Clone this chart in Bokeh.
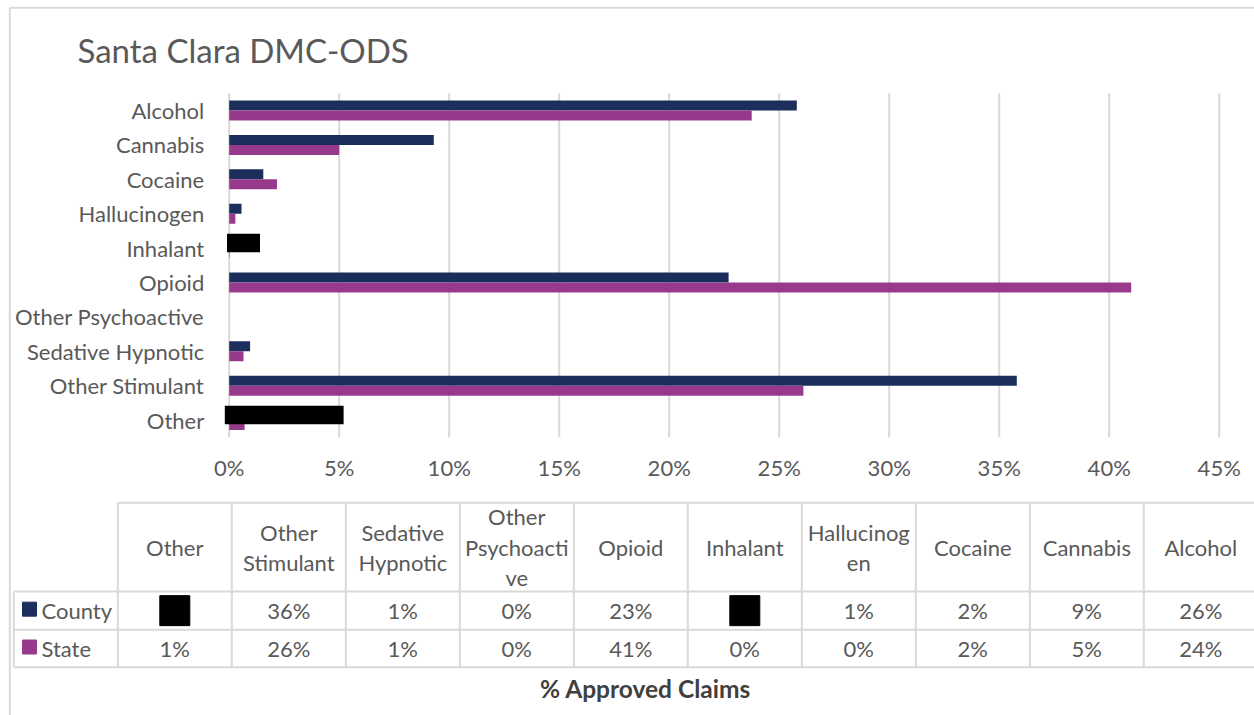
from bokeh.plotting import figure
from bokeh.models import ColumnDataSource, Range1d
from bokeh.transform import dodge
from bokeh.embed import file_html
from bokeh.resources import INLINE
from bokeh.core.properties import value

# ---------------- data ----------------
title_text = "Santa Clara DMC-ODS"
categories = ["Alcohol", "Cannabis", "Cocaine", "Hallucinogen", "Inhalant",
              "Opioid", "Other Psychoactive", "Sedative Hypnotic",
              "Other Stimulant", "Other"]
# None = value redacted (blacked out) in the source image
county_pct = [25.8, 9.3, 1.55, 0.56, None, 22.7, 0.0, 0.95, 35.8, None]
state_pct = [23.75, 5.0, 2.17, 0.28, 0.02, 41.0, 0.0, 0.65, 26.1, 0.7]
x_ticks = [0, 5, 10, 15, 20, 25, 30, 35, 40, 45]
series_names = ["County", "State"]
table_headers = ["Other", "Other\nStimulant", "Sedative\nHypnotic",
                 "Other\nPsychoacti\nve", "Opioid", "Inhalant",
                 "Hallucinog\nen", "Cocaine", "Cannabis", "Alcohol"]
redacted_cats = ["Inhalant", "Other"]
redacted_left = [-0.1, -0.2]
redacted_right = [1.4, 5.2]
axis_title = "% Approved Claims"

NAVY = "#1c2e5c"
PURPLE = "#973a8b"
GRID = "#d9d9d9"
TXT = "#595959"
FONT = value("Lato")
FS = "22px"

W, H = 1254, 715
# plot-area geometry (pixels)
PX0, PX_PER_PCT = 228.7, 22.0          # 0% position, pixels per 1%
PY0, PY_PER_CAT = 92.8, 34.4           # top of plot area, pixels per category

p = figure(width=W, height=H, output_backend="svg", toolbar_location=None,
           x_range=Range1d(0, W), y_range=Range1d(H, 0),
           min_border=0, x_axis_type=None, y_axis_type=None)
p.outline_line_color = None
p.grid.visible = False
p.background_fill_color = "white"
p.border_fill_color = "white"

# scales for the bar chart: percent along x, category slot along y
p.extra_x_ranges = {"pct": Range1d(-PX0 / PX_PER_PCT, (W - PX0) / PX_PER_PCT)}
p.extra_y_ranges = {"cat": Range1d((H - PY0) / PY_PER_CAT, -PY0 / PY_PER_CAT)}

pos = [i + 0.5 for i in range(len(categories))]
cnt = [float("nan") if v is None else v for v in county_pct]
src = ColumnDataSource(dict(cat=categories, pos=pos, county=cnt, state=state_pct))

# vertical gridlines
p.segment(x0=x_ticks, x1=x_ticks, y0=[0] * len(x_ticks), y1=[len(categories)] * len(x_ticks),
          x_range_name="pct", y_range_name="cat", line_color=GRID, line_width=2)

p.hbar(y=dodge("pos", -0.145), left=0, right="county", height=0.29, source=src,
       fill_color=NAVY, line_color=None, x_range_name="pct", y_range_name="cat")
p.hbar(y=dodge("pos", 0.145), left=0, right="state", height=0.29, source=src,
       fill_color=PURPLE, line_color=None, x_range_name="pct", y_range_name="cat")

rpos = [pos[categories.index(c)] for c in redacted_cats]
rsrc = ColumnDataSource(dict(pos=rpos, l=redacted_left, r=redacted_right))
p.hbar(y=dodge("pos", -0.15), left="l", right="r", height=0.54, source=rsrc,
       fill_color="black", line_color=None, x_range_name="pct", y_range_name="cat")

# category labels (y axis)
p.text(x=[PX0 - 25] * len(categories), y=pos, text=categories, y_range_name="cat",
       text_align="right", text_baseline="middle", text_font=FONT,
       text_font_size=FS, text_color=TXT)
# x tick labels
p.text(x=x_ticks, y=[467] * len(x_ticks), text=[f"{t}%" for t in x_ticks],
       x_range_name="pct", text_align="center", text_baseline="middle",
       text_font=FONT, text_font_size=FS, text_color=TXT)

# title
p.text(x=[77], y=[49], text=[title_text], text_align="left",
       text_baseline="middle", text_font=FONT, text_font_size="33px",
       text_color=TXT)

# outer chart-area border
p.segment(x0=[9.3, 9.3], y0=[7.3, 7.3], x1=[9.3, 1260], y1=[720, 7.3],
          line_color=GRID, line_width=2)

# ---------------- data table ----------------
top_y, head_y, mid_y, bot_y = 502.3, 591, 629.3, 666.7
left_x, leg_x, col_w = 13.3, 117.3, 114
ncol = len(table_headers)
col_edges = [leg_x + col_w * i for i in range(ncol)]
col_cx = [leg_x + col_w * (i + 0.5) for i in range(ncol)]

p.segment(x0=[leg_x, left_x, left_x, left_x], y0=[top_y, head_y, mid_y, bot_y],
          x1=[1260] * 4, y1=[top_y, head_y, mid_y, bot_y],
          line_color=GRID, line_width=2)
p.segment(x0=[left_x], y0=[head_y], x1=[left_x], y1=[bot_y], line_color=GRID, line_width=2)
p.segment(x0=col_edges, y0=[top_y] * ncol, x1=col_edges, y1=[bot_y] * ncol,
          line_color=GRID, line_width=2)

p.text(x=col_cx, y=[(top_y + head_y) / 2] * ncol, text=table_headers,
       text_align="center", text_baseline="middle", text_font=FONT,
       text_font_size=FS, text_color=TXT, text_line_height=1.12)

order = list(reversed(categories))
cmap = dict(zip(categories, county_pct))
smap = dict(zip(categories, state_pct))
county_lbl = ["" if cmap[c] is None else f"{round(cmap[c])}%" for c in order]
state_lbl = [f"{round(smap[c])}%" for c in order]
row_c = (head_y + mid_y) / 2
row_s = (mid_y + bot_y) / 2
p.text(x=col_cx, y=[row_c] * ncol, text=county_lbl, text_align="center",
       text_baseline="middle", text_font=FONT, text_font_size=FS, text_color=TXT)
p.text(x=col_cx, y=[row_s] * ncol, text=state_lbl, text_align="center",
       text_baseline="middle", text_font=FONT, text_font_size=FS, text_color=TXT)

# redacted table cells
red_x = [col_cx[order.index(c)] for c in redacted_cats]
p.rect(x=red_x, y=[row_c] * len(red_x), width=30, height=30, color="black")

# legend keys
p.rect(x=[29, 29], y=[row_c - 1.5, row_s - 1.5], width=14, height=14,
       color=[NAVY, PURPLE])
p.text(x=[41, 41], y=[row_c, row_s], text=series_names, text_align="left",
       text_baseline="middle", text_font=FONT, text_font_size=FS, text_color=TXT)

# axis title
p.text(x=[645], y=[688], text=[axis_title], text_align="center",
       text_baseline="middle", text_font=FONT, text_font_size="24.5px",
       text_font_style="bold", text_color="#404040")

open("out.html", "w").write(file_html(p, INLINE))
